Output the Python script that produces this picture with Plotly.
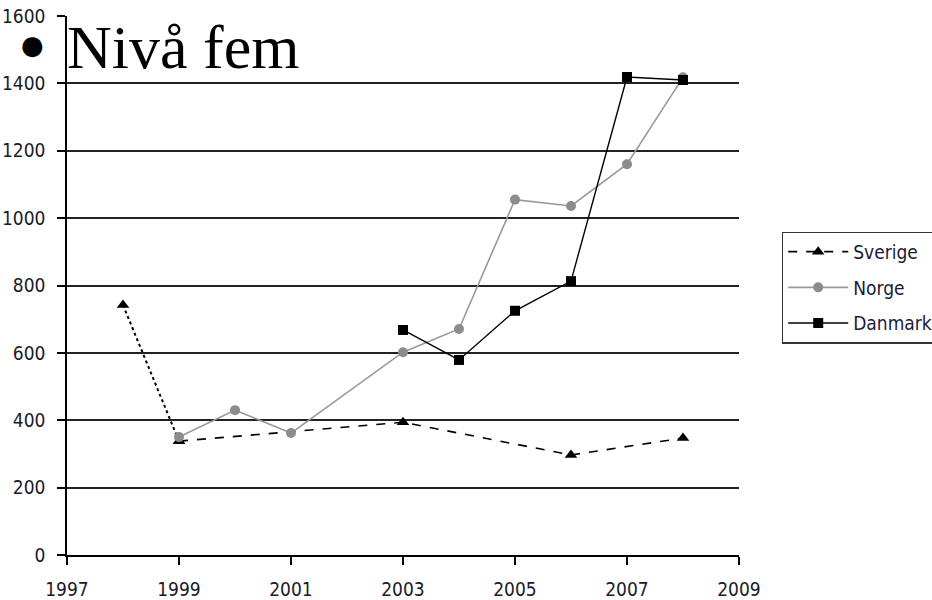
import plotly.graph_objects as go

# Data
sverige_years = [1998, 1999, 2003, 2006, 2008]
sverige_vals = [742, 338, 394, 297, 347]

norge_years = [1999, 2000, 2001, 2003, 2004, 2005, 2006, 2007, 2008]
norge_vals = [350, 430, 362, 602, 671, 1055, 1036, 1160, 1418]

danmark_years = [2003, 2004, 2005, 2006, 2007, 2008]
danmark_vals = [668, 579, 725, 813, 1419, 1410]

x_ticks = [1997, 1999, 2001, 2003, 2005, 2007, 2009]
y_ticks = [0, 200, 400, 600, 800, 1000, 1200, 1400, 1600]

NARROW = "Liberation Sans Narrow, DejaVu Sans Condensed, Roboto"
tick_font = dict(family=NARROW, size=19, color="#1a1a2a")

fig = go.Figure()

# Sverige: first segment dotted (no legend entry)
fig.add_trace(go.Scatter(
    x=sverige_years[:2], y=sverige_vals[:2], mode="lines+markers",
    line=dict(color="black", width=2, dash="dot"),
    marker=dict(symbol="triangle-up", size=11, color="black"),
    showlegend=False, legendgroup="s", hoverinfo="skip"))
fig.add_trace(go.Scatter(
    x=sverige_years[1:], y=sverige_vals[1:], mode="lines+markers", name="Sverige",
    line=dict(color="black", width=1.6, dash="dash"),
    marker=dict(symbol="triangle-up", size=11, color="black"),
    legendgroup="s"))
fig.add_trace(go.Scatter(
    x=norge_years, y=norge_vals, mode="lines+markers", name="Norge",
    line=dict(color="#999999", width=1.6),
    marker=dict(symbol="circle", size=10, color="#8c8c8c"),
    legendgroup="n"))
fig.add_trace(go.Scatter(
    x=danmark_years, y=danmark_vals, mode="lines+markers", name="Danmark",
    line=dict(color="black", width=1.4),
    marker=dict(symbol="square", size=10, color="black"),
    legendgroup="d"))

fig.update_layout(
    width=932, height=600,
    margin=dict(l=67, r=193, t=16, b=45, autoexpand=False),
    plot_bgcolor="white", paper_bgcolor="white",
    font=tick_font,
    showlegend=True,
    legend=dict(
        x=1.064, y=0.60, xanchor="left", yanchor="top",
        bordercolor="#333333", borderwidth=1.2, bgcolor="white",
        font=dict(family=NARROW, size=19, color="#1a1a3a"),
        tracegroupgap=8, itemwidth=60,
    ),
    xaxis=dict(
        range=[1997, 2009], tickvals=x_ticks, ticktext=[str(v) for v in x_ticks],
        showgrid=False, zeroline=False, showline=True, linecolor="black", linewidth=1.5,
        ticks="outside", ticklen=8, tickwidth=1.5, tickcolor="black",
        ticklabelstandoff=8, tickfont=tick_font, automargin=False,
    ),
    yaxis=dict(
        range=[0, 1600], tickvals=y_ticks, ticktext=[str(v) for v in y_ticks],
        showgrid=True, gridcolor="#222222", gridwidth=1.5, zeroline=False,
        showline=True, linecolor="black", linewidth=1.5,
        ticks="outside", ticklen=8, tickwidth=1.5, tickcolor="black",
        ticklabelstandoff=8, tickfont=tick_font, automargin=False,
    ),
)

fig.add_annotation(
    text="●", xref="paper", yref="paper",
    x=-0.052, y=0.947, xanchor="center", yanchor="middle",
    showarrow=False,
    font=dict(family="DejaVu Sans", size=26, color="black"),
)
fig.add_annotation(
    text="Nivå fem", xref="paper", yref="paper",
    x=-0.003, y=0.942, xanchor="left", yanchor="middle",
    showarrow=False,
    font=dict(family="Liberation Serif, Times New Roman, serif", size=62, color="black"),
)

fig.write_html("out.html", post_script="document.body.style.margin='0';",
               config={"displayModeBar": False})
